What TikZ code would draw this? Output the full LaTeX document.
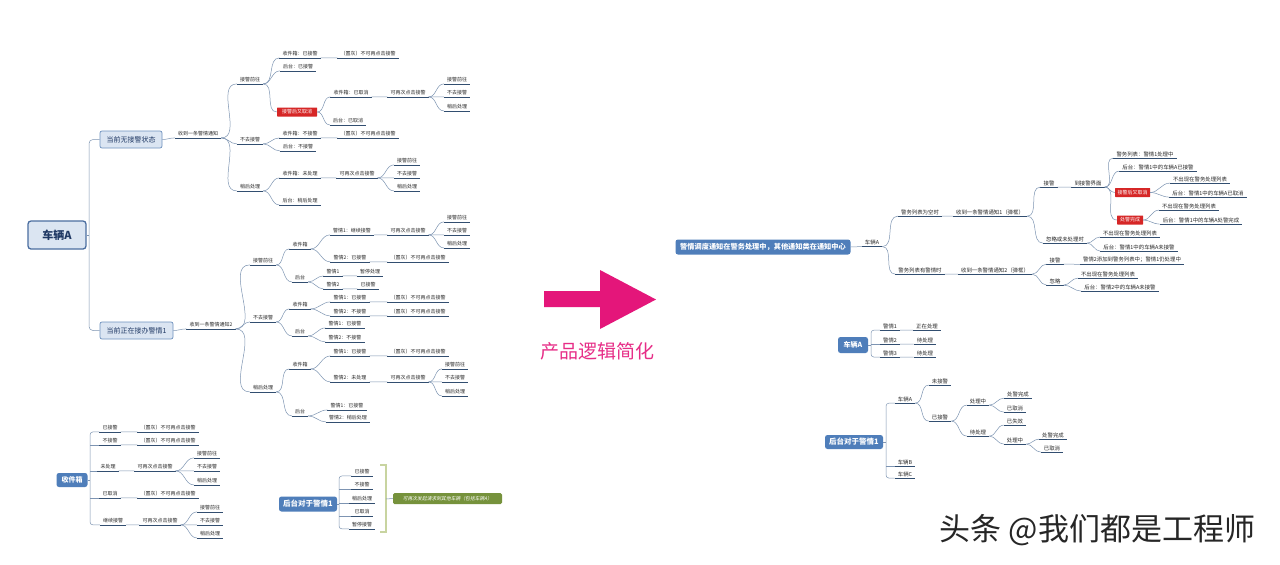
\documentclass[tikz,border=0pt]{standalone}
\usepackage{fontspec}
\setmainfont{Noto Sans CJK SC}
\newfontfamily\cjki[FakeSlant=0.2]{Noto Sans CJK SC}
\definecolor{ulc}{RGB}{50,78,112}
\definecolor{cnc}{RGB}{125,148,178}
\definecolor{bluebox}{RGB}{79,126,186}
\definecolor{redbox}{RGB}{214,38,38}
\definecolor{lbfill}{RGB}{219,229,242}
\definecolor{lbdraw}{RGB}{110,145,190}
\definecolor{rootdraw}{RGB}{75,110,160}
\definecolor{roottxt}{RGB}{31,56,100}
\definecolor{olivebox}{RGB}{118,146,60}
\definecolor{brk}{RGB}{200,212,160}
\definecolor{mag}{RGB}{228,22,122}
\definecolor{txt}{RGB}{40,40,40}
\tikzset{
 ul/.style={draw=ulc,line width=0.8pt},
 lf/.style={font=\fontsize{5}{6}\selectfont, text=txt, inner xsep=3pt, inner ysep=1.4pt,
   append after command={(\tikzlastnode.south west) edge[ul] (\tikzlastnode.south east)}},
 rf/.style={lf, font=\fontsize{5.4}{6}\selectfont},
 cn/.style={draw=cnc, line width=0.5pt},
 redb/.style={fill=redbox, text=white, font=\fontsize{5}{6}\selectfont, inner xsep=2.5pt, inner ysep=1.5pt, minimum height=9pt, rounded corners=0.5pt},
 bbox/.style={fill=bluebox, text=white, font=\fontsize{7}{8}\selectfont\bfseries, rounded corners=2.5pt, inner xsep=4pt, inner ysep=2.5pt},
 lbox/.style={fill=lbfill, draw=lbdraw, line width=0.7pt, text=roottxt, font=\fontsize{7}{8}\selectfont, rounded corners=2pt, minimum height=17pt, inner xsep=5pt},
 rootbox/.style={fill=lbfill, draw=rootdraw, line width=1.3pt, text=roottxt, font=\fontsize{11}{12}\selectfont\bfseries, rounded corners=3pt, minimum width=58pt, minimum height=28pt},
}
\newcommand\conUU[2]{\draw[cn] (#1.south east) to[out=0,in=180] (#2.south west);}
\newcommand\conBU[2]{\draw[cn] (#1.east) to[out=0,in=180] (#2.south west);}
\newcommand\conUB[2]{\draw[cn] (#1.south east) to[out=0,in=180] (#2.west);}
\begin{document}
\begin{tikzpicture}[x=1pt,y=-1pt]
\useasboundingbox (0,0) rectangle (1280,565);
\fill[white] (0,0) rectangle (1280,565);

% ===== left: vehicle A tree =====
\node[rootbox] (L0) at (57,235) {车辆A};
\node[lbox, minimum width=62pt] (L1a) at (131,139.5) {当前无接警状态};
\node[lbox, minimum width=73pt] (L1b) at (136.5,330.5) {当前正在接办警情1};
\coordinate (lv) at (89,235);
\draw[cn, rounded corners=4pt] (L1a.west) -| (lv) |- (L1b.west);
\draw[cn] (L0.east) -- (lv);

\node[lf] (a0) at (198,134) {收到一条警情通知};
\node[lf] (a1) at (250,80) {接警前往};
\node[lf] (a2) at (250,140) {不去接警};
\node[lf] (a3) at (250,187) {稍后处理};
\node[lf] (a11) at (300,54) {收件箱：已接警};
\node[lf] (a111) at (368,54) {（置灰）不可再点击接警};
\node[lf] (a12) at (298,67) {后台：已接警};
\node[redb, minimum width=40pt] (a13) at (297,112) {接警后又取消};
\node[lf] (a131) at (351,93) {收件箱：已取消};
\node[lf] (a1311) at (408,93) {可再次点击接警};
\node[lf] (a13a) at (457,80) {接警前往};
\node[lf] (a13b) at (457,93) {不去接警};
\node[lf] (a13c) at (457,107) {稍后处理};
\node[lf] (a132) at (348,121) {后台：已取消};
\node[lf] (a21) at (300,134) {收件箱：不接警};
\node[lf] (a211) at (368,134) {（置灰）不可再点击接警};
\node[lf] (a22) at (298,147) {后台：不接警};
\node[lf] (a31) at (300,174) {收件箱：未处理};
\node[lf] (a311) at (357,174) {可再次点击接警};
\node[lf] (a31a) at (407,161) {接警前往};
\node[lf] (a31b) at (407,174) {不去接警};
\node[lf] (a31c) at (407,187) {稍后处理};
\node[lf] (a32) at (300,201) {后台：稍后处理};

\conBU{L1a}{a0}
\conUU{a0}{a1} \conUU{a0}{a2} \conUU{a0}{a3}
\conUU{a1}{a11} \conUU{a11}{a111} \conUU{a1}{a12} \conUB{a1}{a13}
\conBU{a13}{a131} \conBU{a13}{a132} \conUU{a131}{a1311}
\conUU{a1311}{a13a} \conUU{a1311}{a13b} \conUU{a1311}{a13c}
\conUU{a2}{a21} \conUU{a21}{a211} \conUU{a2}{a22}
\conUU{a3}{a31} \conUU{a31}{a311} \conUU{a3}{a32}
\conUU{a311}{a31a} \conUU{a311}{a31b} \conUU{a311}{a31c}

\node[lf] (b0) at (211,325) {收到一条警情通知2};
\node[lf] (b1) at (263,261) {接警前往};
\node[lf] (b2) at (263,318) {不去接警};
\node[lf] (b3) at (263,388) {稍后处理};
\node[lf] (b11) at (300,245) {收件箱};
\node[lf] (b12) at (300,278) {后台};
\node[lf] (b111) at (352,231) {警情1：继续接警};
\node[lf] (b1111) at (408,231) {可再次点击接警};
\node[lf] (b11a) at (457,218) {接警前往};
\node[lf] (b11b) at (457,231) {不去接警};
\node[lf] (b11c) at (457,244) {稍后处理};
\node[lf] (b112) at (350,258) {警情2：已接警};
\node[lf] (b1121) at (418,258) {（置灰）不可再点击接警};
\node[lf] (b121) at (333,272) {警情1};
\node[lf] (b1211) at (370,272) {暂停处理};
\node[lf] (b122) at (333,285) {警情2};
\node[lf] (b1221) at (368,285) {已接警};
\node[lf] (b21) at (300,305) {收件箱};
\node[lf] (b22) at (300,332) {后台};
\node[lf] (b211) at (350,298) {警情1：已接警};
\node[lf] (b2111) at (418,298) {（置灰）不可再点击接警};
\node[lf] (b212) at (350,312) {警情2：不接警};
\node[lf] (b2121) at (418,312) {（置灰）不可再点击接警};
\node[lf] (b221) at (345,324) {警情1：已接警};
\node[lf] (b222) at (345,338) {警情2：不接警};
\node[lf] (b31) at (300,365) {收件箱};
\node[lf] (b32) at (300,412) {后台};
\node[lf] (b311) at (350,352) {警情1：已接警};
\node[lf] (b3111) at (418,352) {（置灰）不可再点击接警};
\node[lf] (b312) at (350,378) {警情2：未处理};
\node[lf] (b3121) at (408,378) {可再次点击接警};
\node[lf] (b31a) at (455,365) {接警前往};
\node[lf] (b31b) at (455,378) {不去接警};
\node[lf] (b31c) at (455,392) {稍后处理};
\node[lf] (b321) at (347,406) {警情1：已接警};
\node[lf] (b322) at (348,418) {警情2：稍后处理};

\conBU{L1b}{b0}
\conUU{b0}{b1} \conUU{b0}{b2} \conUU{b0}{b3}
\conUU{b1}{b11} \conUU{b1}{b12}
\conUU{b11}{b111} \conUU{b11}{b112} \conUU{b111}{b1111} \conUU{b112}{b1121}
\conUU{b1111}{b11a} \conUU{b1111}{b11b} \conUU{b1111}{b11c}
\conUU{b12}{b121} \conUU{b12}{b122} \conUU{b121}{b1211} \conUU{b122}{b1221}
\conUU{b2}{b21} \conUU{b2}{b22}
\conUU{b21}{b211} \conUU{b21}{b212} \conUU{b211}{b2111} \conUU{b212}{b2121}
\conUU{b22}{b221} \conUU{b22}{b222}
\conUU{b3}{b31} \conUU{b3}{b32}
\conUU{b31}{b311} \conUU{b31}{b312} \conUU{b311}{b3111} \conUU{b312}{b3121}
\conUU{b3121}{b31a} \conUU{b3121}{b31b} \conUU{b3121}{b31c}
\conUU{b32}{b321} \conUU{b32}{b322}

% ===== left bottom: inbox =====
\node[bbox, minimum width=31pt, minimum height=14pt] (c0) at (72,480) {收件箱};
\node[lf] (c1) at (110,428) {已接警};
\node[lf] (c11) at (168,428) {（置灰）不可再点击接警};
\node[lf] (c2) at (110,441) {不接警};
\node[lf] (c21) at (168,441) {（置灰）不可再点击接警};
\node[lf] (c3) at (108,467) {未处理};
\node[lf] (c31) at (155,467) {可再次点击接警};
\node[lf] (c3a) at (207,454) {接警前往};
\node[lf] (c3b) at (207,467) {不去接警};
\node[lf] (c3c) at (207,481) {稍后处理};
\node[lf] (c4) at (110,494) {已取消};
\node[lf] (c41) at (168,494) {（置灰）不可再点击接警};
\node[lf] (c5) at (113,521) {继续接警};
\node[lf] (c51) at (160,521) {可再次点击接警};
\node[lf] (c5a) at (210,508) {接警前往};
\node[lf] (c5b) at (210,521) {不去接警};
\node[lf] (c5c) at (210,534) {稍后处理};
\coordinate (cv) at (90,480);
\draw[cn] (c0.east) -- (cv);
\draw[cn, rounded corners=3pt] (c1.south west) -| (cv) |- (c5.south west);
\foreach \k in {c2,c3,c4} {\draw[cn] (cv|-\k.south west) -- (\k.south west);}
\conUU{c1}{c11} \conUU{c2}{c21} \conUU{c3}{c31} \conUU{c4}{c41} \conUU{c5}{c51}
\conUU{c31}{c3a} \conUU{c31}{c3b} \conUU{c31}{c3c}
\conUU{c51}{c5a} \conUU{c51}{c5b} \conUU{c51}{c5c}

% ===== left bottom: backend for alarm 1 =====
\node[bbox, minimum width=58pt, minimum height=15pt, font=\fontsize{7.5}{8}\selectfont\bfseries] (d0) at (308,504) {后台对于警情1};
\node[lf] (d1) at (362,472) {已接警};
\node[lf] (d2) at (362,485) {不接警};
\node[lf] (d3) at (362,499) {稍后处理};
\node[lf] (d4) at (362,512) {已取消};
\node[lf] (d5) at (362,525) {暂停接警};
\coordinate (dv) at (339,504);
\draw[cn] (d0.east) -- (dv);
\draw[cn, rounded corners=3pt] (d1.south west) -| (dv) |- (d5.south west);
\foreach \k in {d2,d3,d4} {\draw[cn] (dv|-\k.south west) -- (\k.south west);}
\draw[brk, line width=1.3pt] (380,465) -- (386,465) -- (386,532) -- (380,532);
\coordinate (bm) at (386,499);
\node[fill=olivebox, text=white, font=\fontsize{4.8}{5}\cjki, minimum width=109pt, minimum height=11pt, inner sep=1pt, rounded corners=1.5pt] (g) at (447.5,498.5) {可再次发起请求到其他车辆（包括车辆A）};
\draw[cn] (bm) -- (g.west);

% ===== arrow and caption =====
\fill[mag] (544,291) -- (600,291) -- (600,270) -- (656,299.5) -- (600,329) -- (600,307) -- (544,307) -- cycle;
\node[text=mag!90!white, font=\fontsize{19}{20}\selectfont, inner sep=0pt] (cap) at (597.5,351) {产品逻辑简化};

% ===== right: simplified =====
\node[bbox, minimum width=175pt, minimum height=15pt, font=\fontsize{7.2}{8}\selectfont\bfseries] (r0) at (763,247) {警情调度通知在警务处理中，其他通知类在通知中心};
\node[rf] (r1) at (872,242.5) {车辆A};
\node[rf] (r11) at (920,212) {警务列表为空时};
\node[rf] (r111) at (990,212) {收到一条警情通知1（弹框）};
\node[rf] (r12) at (920,270) {警务列表有警情时};
\node[rf] (r121) at (995,270) {收到一条警情通知2（弹框）};
\node[rf] (r1111) at (1049,183) {接警};
\node[rf] (r11111) at (1088,183) {到接警界面};
\node[rf] (q1) at (1145,154) {警务列表：警情1处理中};
\node[rf] (q2) at (1158,167) {后台：警情1中的车辆A已接警};
\node[redb, minimum width=31pt, font=\fontsize{5}{6}\selectfont] (q3) at (1132.5,192.5) {接警后又取消};
\node[rf] (q31) at (1200,179) {不出现在警务处理列表};
\node[rf] (q32) at (1208,193) {后台：警情1中的车辆A已取消};
\node[redb, minimum width=26pt, font=\fontsize{5}{6}\selectfont] (q4) at (1130,220) {处警完成};
\node[rf] (q41) at (1189,206) {不出现在警务处理列表};
\node[rf] (q42) at (1201,220) {后台：警情1中的车辆A处警完成};
\node[rf] (r1112) at (1065,239) {忽略或未处理时};
\node[rf] (q51) at (1130,233) {不出现在警务处理列表};
\node[rf] (q52) at (1139,247) {后台：警情1中的车辆A未接警};
\node[rf] (r1211) at (1055,260) {接警};
\node[rf] (q61) at (1132,260) {警情2添加到警务列表中；警情1仍处理中};
\node[rf] (r1212) at (1055,281) {忽略};
\node[rf] (q71) at (1108,274) {不出现在警务处理列表};
\node[rf] (q72) at (1120,287) {后台：警情2中的车辆A未接警};

\conBU{r0}{r1}
\conUU{r1}{r11} \conUU{r1}{r12}
\conUU{r11}{r111} \conUU{r12}{r121}
\conUU{r111}{r1111} \conUU{r111}{r1112}
\conUU{r1111}{r11111}
\conUU{r11111}{q1} \conUU{r11111}{q2} \conUB{r11111}{q3} \conUB{r11111}{q4}
\conBU{q3}{q31} \conBU{q3}{q32} \conBU{q4}{q41} \conBU{q4}{q42}
\conUU{r1112}{q51} \conUU{r1112}{q52}
\conUU{r121}{r1211} \conUU{r121}{r1212}
\conUU{r1211}{q61}
\conUU{r1212}{q71} \conUU{r1212}{q72}

% right: vehicle A list
\node[bbox, minimum width=30pt, minimum height=16pt] (s0) at (853,345) {车辆A};
\node[rf] (s1) at (890,326) {警情1};
\node[rf] (s11) at (927,326) {正在处理};
\node[rf] (s2) at (890,340) {警情2};
\node[rf] (s21) at (925,340) {待处理};
\node[rf] (s3) at (890,353) {警情3};
\node[rf] (s31) at (925,353) {待处理};
\coordinate (sv) at (871,345);
\draw[cn] (s0.east) -- (sv);
\draw[cn, rounded corners=3pt] (s1.south west) -| (sv) |- (s3.south west);
\draw[cn] (sv|-s2.south west) -- (s2.south west);
\conUU{s1}{s11} \conUU{s2}{s21} \conUU{s3}{s31}

% right: backend for alarm 1
\node[bbox, minimum width=58pt, minimum height=14pt, font=\fontsize{7.5}{8}\selectfont\bfseries] (t0) at (854,442) {后台对于警情1};
\node[rf] (t1) at (905,399) {车辆A};
\node[rf] (t11) at (940,381) {未接警};
\node[rf] (t12) at (940,417) {已接警};
\node[rf] (t121) at (978,401) {处理中};
\node[rf] (t1211) at (1018,394) {处警完成};
\node[rf] (t1212) at (1015,408) {已取消};
\node[rf] (t122) at (978,432) {待处理};
\node[rf] (t1221) at (1015,421) {已失效};
\node[rf] (t1222) at (1015,440) {处理中};
\node[rf] (t12221) at (1053,435) {处警完成};
\node[rf] (t12222) at (1052,448) {已取消};
\node[rf] (t2) at (905,462) {车辆B};
\node[rf] (t3) at (905,474) {车辆C};
\coordinate (tv) at (886,442);
\draw[cn] (t0.east) -- (tv);
\draw[cn, rounded corners=3pt] (t1.south west) -| (tv) |- (t3.south west);
\draw[cn] (tv|-t2.south west) -- (t2.south west);
\conUU{t1}{t11} \conUU{t1}{t12}
\conUU{t12}{t121} \conUU{t12}{t122}
\conUU{t121}{t1211} \conUU{t121}{t1212}
\conUU{t122}{t1221} \conUU{t122}{t1222}
\conUU{t1222}{t12221} \conUU{t1222}{t12222}

% watermark
\node[text=black!85, font=\fontsize{31}{32}\selectfont, inner sep=0pt] (wm) at (1097.5,530) {头条 @我们都是工程师};
\end{tikzpicture}
\end{document}
